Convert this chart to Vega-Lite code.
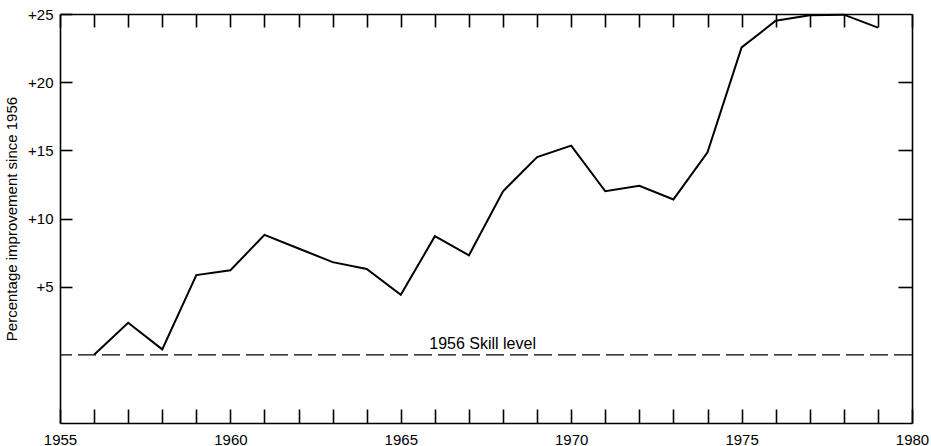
{
  "$schema": "https://vega.github.io/schema/vega-lite/v6.json",
  "width": 852,
  "height": 409,
  "autosize": {"type": "none"},
  "padding": {"left": 60, "top": 14, "right": 19, "bottom": 23},
  "background": "white",
  "config": {
    "view": {"stroke": null},
    "font": "Liberation Sans",
    "axis": {
      "domainColor": "black",
      "domainWidth": 1.6,
      "tickColor": "black",
      "tickWidth": 1.6,
      "grid": false,
      "labelColor": "black",
      "titleColor": "black",
      "labelFont": "Liberation Sans",
      "titleFont": "Liberation Sans"
    }
  },
  "datasets": {
    "skill": [
      {"year": 1956, "improvement": 0},
      {"year": 1957, "improvement": 2.35},
      {"year": 1958, "improvement": 0.4},
      {"year": 1959, "improvement": 5.85},
      {"year": 1960, "improvement": 6.2},
      {"year": 1961, "improvement": 8.8},
      {"year": 1962, "improvement": 7.8},
      {"year": 1963, "improvement": 6.8},
      {"year": 1964, "improvement": 6.3},
      {"year": 1965, "improvement": 4.4},
      {"year": 1966, "improvement": 8.7},
      {"year": 1967, "improvement": 7.3},
      {"year": 1968, "improvement": 12.0},
      {"year": 1969, "improvement": 14.5},
      {"year": 1970, "improvement": 15.35},
      {"year": 1971, "improvement": 12.0},
      {"year": 1972, "improvement": 12.4},
      {"year": 1973, "improvement": 11.4},
      {"year": 1974, "improvement": 14.85},
      {"year": 1975, "improvement": 22.55},
      {"year": 1976, "improvement": 24.5},
      {"year": 1977, "improvement": 24.9},
      {"year": 1978, "improvement": 24.95},
      {"year": 1979, "improvement": 24.0}
    ]
  },
  "resolve": {"axis": {"x": "independent", "y": "independent"}},
  "layer": [
    {
      "data": {"values": [{"level": 0}]},
      "mark": {"type": "rule", "stroke": "black", "strokeWidth": 1.4, "strokeDash": [18, 6]},
      "encoding": {
        "y": {"field": "level", "type": "quantitative", "axis": null}
      }
    },
    {
      "data": {"name": "skill"},
      "mark": {"type": "line", "stroke": "black", "strokeWidth": 2},
      "encoding": {
        "x": {
          "field": "year", "type": "quantitative",
          "scale": {"domain": [1955, 1980], "nice": false, "zero": false},
          "axis": {
            "orient": "bottom",
            "values": [1955,1956,1957,1958,1959,1960,1961,1962,1963,1964,1965,1966,1967,1968,1969,1970,1971,1972,1973,1974,1975,1976,1977,1978,1979,1980],
            "format": "d",
            "labelExpr": "datum.value % 5 === 0 ? datum.label : ''",
            "tickSize": -14,
            "labelFontSize": 15,
            "labelPadding": 23,
            "labelFlush": false,
            "labelOverlap": false,
            "title": null
          }
        },
        "y": {
          "field": "improvement", "type": "quantitative",
          "scale": {"domain": [-5, 25], "nice": false, "zero": false},
          "axis": {
            "orient": "left",
            "values": [5, 10, 15, 20, 25],
            "format": "+d",
            "tickSize": -12,
            "labelFontSize": 15,
            "labelPadding": 19,
            "labelFlush": false,
            "title": "Percentage improvement since 1956",
            "titleFontSize": 15,
            "titleFontWeight": "normal",
            "titlePadding": 8
          }
        }
      }
    },
    {
      "data": {"name": "skill"},
      "mark": {"type": "line", "strokeOpacity": 0},
      "encoding": {
        "x": {
          "field": "year", "type": "quantitative",
          "axis": {
            "orient": "top",
            "values": [1955,1956,1957,1958,1959,1960,1961,1962,1963,1964,1965,1966,1967,1968,1969,1970,1971,1972,1973,1974,1975,1976,1977,1978,1979,1980],
            "labels": false,
            "tickSize": -13,
            "title": null
          }
        },
        "y": {
          "field": "improvement", "type": "quantitative",
          "axis": {
            "orient": "right",
            "values": [5, 10, 15, 20],
            "labels": false,
            "tickSize": -14,
            "title": null
          }
        }
      }
    },
    {
      "data": {"values": [{"year": 1967.4, "level": 0, "label": "1956 Skill level"}]},
      "mark": {"type": "text", "align": "center", "baseline": "bottom", "dy": -3, "fontSize": 16, "font": "Liberation Sans", "color": "black"},
      "encoding": {
        "x": {"field": "year", "type": "quantitative", "axis": null},
        "y": {"field": "level", "type": "quantitative", "axis": null},
        "text": {"field": "label"}
      }
    }
  ]
}
